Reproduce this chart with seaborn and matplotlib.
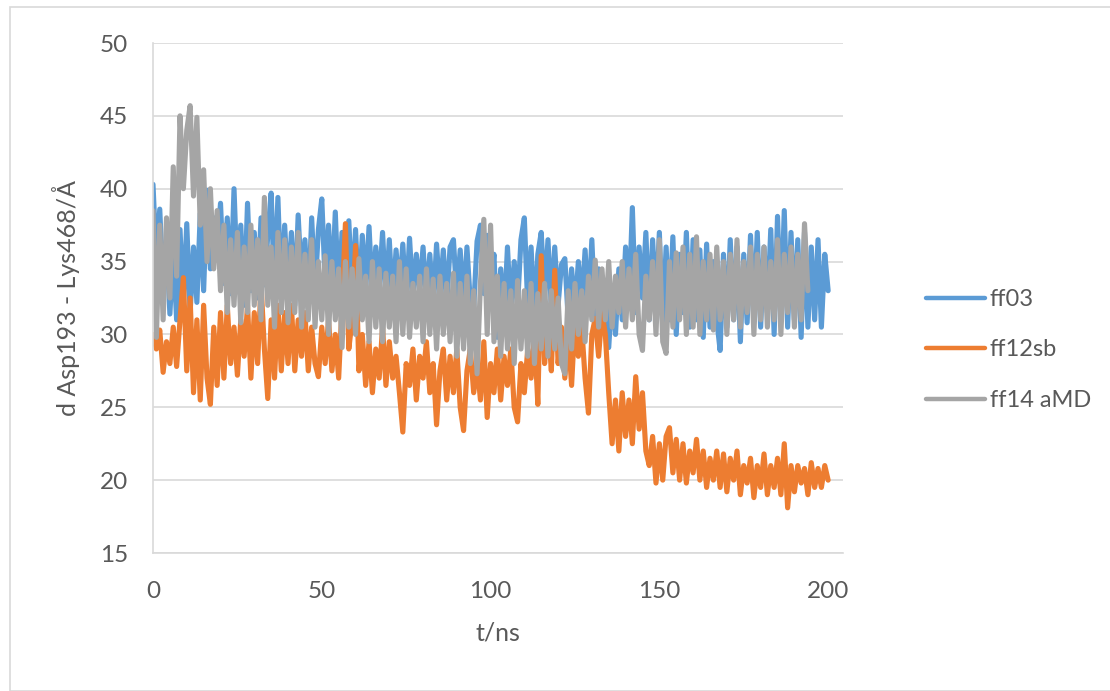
import seaborn as sns
import pandas as pd
import numpy as np
import matplotlib.pyplot as plt
from matplotlib.patches import Rectangle

# values, 1 ns apart
ff03 = [
    40.3, 35.0, 38.6, 33.2, 36.5, 31.4, 35.8, 31.0, 37.2, 32.0,
    37.6, 31.5, 36.0, 32.2, 38.3, 33.0, 39.9, 34.5, 38.0, 35.8,
    39.0, 33.5, 38.0, 32.8, 40.0, 33.5, 37.5, 32.0, 39.0, 33.0,
    37.0, 32.5, 38.0, 33.4, 36.8, 39.7, 33.0, 39.4, 32.5, 37.5,
    33.0, 37.0, 32.0, 38.2, 33.5, 36.5, 31.8, 38.0, 33.0, 37.2,
    39.3, 33.5, 37.5, 32.8, 38.4, 32.4, 37.0, 33.0, 37.8, 32.6,
    37.2, 32.0, 36.8, 33.0, 37.4, 32.5, 36.0, 33.2, 37.0, 32.4,
    36.5, 32.0, 35.8, 32.8, 36.2, 32.0, 36.6, 32.5, 35.5, 33.0,
    36.0, 32.2, 35.5, 31.8, 36.2, 32.6, 35.8, 32.0, 36.0, 36.5,
    32.5, 35.8, 31.9, 36.0, 32.2, 31.8, 36.4, 37.5, 32.8, 36.8,
    33.0, 35.5, 29.8, 34.5, 31.0, 36.0, 31.5, 35.0, 32.0, 36.5,
    38.0, 32.0, 36.0, 31.0, 35.5, 37.0, 32.5, 36.5, 31.8, 36.0,
    32.0, 34.8, 35.2, 31.0, 34.5, 31.5, 35.0, 32.0, 35.8, 31.5,
    36.5, 31.0, 34.5, 30.5, 33.5, 29.1, 33.0, 30.0, 34.5, 31.0,
    36.0, 32.0, 38.7, 31.5, 36.0, 32.5, 37.0, 31.0, 36.5, 32.0,
    37.0, 30.5, 36.0, 31.0, 36.7, 30.0, 35.5, 31.5, 37.0, 30.5,
    36.5, 31.0, 35.8, 29.8, 36.2, 30.5, 35.0, 31.0, 28.9, 35.5,
    30.5, 36.5, 31.0, 36.0, 29.5, 35.5, 30.8, 36.8, 31.0, 37.0,
    30.5, 36.0, 31.5, 37.2, 30.0, 38.1, 31.0, 38.5, 30.5, 37.0,
    31.0, 36.5, 29.8, 37.0, 30.5, 36.0, 31.0, 36.5, 30.5, 35.5,
    33.0,
]
ff12sb = [
    30.0, 29.0, 30.3, 27.4, 29.5, 28.0, 30.5, 27.8, 31.0, 33.9,
    27.5, 32.5, 26.0, 31.0, 25.5, 32.0, 27.0, 25.2, 30.5, 26.5,
    31.5, 27.0, 32.0, 28.0, 30.5, 27.2, 31.0, 28.5, 32.0, 27.0,
    31.5, 28.0, 33.5, 29.0, 25.6, 31.0, 27.0, 32.0, 27.5, 31.5,
    28.0, 32.0, 27.5, 31.0, 28.5, 31.5, 27.5, 30.5, 28.0, 27.1,
    30.5, 28.0, 31.0, 27.5, 30.0, 27.0, 32.0, 37.6, 29.0, 31.0,
    36.1, 27.5, 30.0, 26.5, 29.5, 26.0, 29.0, 27.0, 30.5, 26.5,
    29.5, 27.0, 28.5, 26.0, 23.3, 28.0, 26.5, 29.0, 25.5, 28.5,
    27.0, 29.5, 26.0, 28.0, 23.8, 27.5, 29.0, 25.5, 28.5, 26.0,
    29.0, 25.0, 23.4, 27.5, 29.0, 26.0, 28.0, 25.5, 29.5, 24.3,
    28.0, 26.0, 29.0, 25.5, 28.5, 26.5, 29.0, 25.0, 24.0, 28.0,
    26.0, 29.0, 27.0, 30.0, 25.2, 35.4, 28.0, 31.0, 27.5, 34.4,
    28.0, 30.5, 27.0, 30.0, 26.5, 31.0, 28.5, 30.5, 27.0, 24.6,
    30.0, 31.1, 28.5, 31.5, 30.0, 26.0, 22.5, 25.5, 22.0, 26.0,
    23.0, 25.5, 22.5, 27.1, 23.5, 26.0, 22.0, 21.0, 23.0, 19.8,
    22.5, 20.0, 23.0, 23.6, 20.5, 22.8, 20.0, 22.5, 19.8, 22.0,
    20.5, 22.8, 20.0, 22.0, 19.5, 21.5, 20.0, 22.0, 19.5, 21.8,
    19.2, 21.5, 20.0, 22.0, 19.0, 21.0, 19.8, 21.5, 18.8, 21.0,
    19.5, 21.8, 19.0, 21.0, 19.5, 21.5, 19.0, 22.5, 18.1, 21.0,
    19.2, 21.0, 19.8, 20.8, 19.0, 21.2, 19.5, 20.8, 19.5, 21.0,
    20.0,
]
ff14_amd = [
    38.5, 29.8, 37.5, 31.0, 38.0, 32.5, 41.5, 34.0, 45.0, 40.0,
    44.0, 45.7, 39.5, 44.9, 37.5, 41.3, 35.0, 40.0, 34.5, 38.5,
    33.0, 37.5, 31.5, 36.5, 32.0, 37.0, 30.8, 36.0, 31.5, 37.5,
    32.0, 36.5, 31.0, 39.4, 32.0, 36.0, 30.5, 37.0, 31.5, 36.5,
    30.8, 36.0, 31.5, 37.0, 30.5, 35.5, 31.0, 36.5, 30.5, 35.0,
    31.0, 35.4, 30.0, 35.0, 31.0, 34.5, 29.1, 35.0, 30.5, 34.5,
    30.0, 35.2, 31.0, 34.0, 29.5, 35.0, 30.5, 34.5, 29.5, 34.2,
    30.5, 34.0, 29.5, 35.0, 30.0, 34.5, 29.8, 33.5, 30.5, 34.0,
    29.5, 34.5, 30.0, 33.8, 29.0, 34.0, 30.0, 33.5, 29.5, 34.2,
    28.5, 33.5, 29.0, 34.0, 28.0, 33.0, 27.3, 33.5, 37.9, 30.0,
    37.5, 29.5, 34.0, 28.5, 33.5, 29.0, 33.0, 28.0, 33.7, 29.0,
    33.0, 28.5, 33.5, 28.0, 32.8, 29.0, 33.5, 28.5, 33.0, 29.0,
    32.5, 28.0, 27.3, 33.0, 29.0, 33.5, 30.0, 33.0, 29.5, 34.0,
    31.0, 35.1, 30.5, 34.5, 31.0, 35.0, 30.5, 34.0, 31.5, 35.0,
    30.5, 34.5, 31.0, 35.5, 30.0, 28.9, 34.0, 31.0, 35.0, 30.0,
    36.5, 29.5, 28.7, 35.0, 30.5, 35.6, 31.0, 36.0, 30.0, 35.5,
    30.5, 36.7, 30.0, 35.0, 31.0, 35.5, 30.3, 36.0, 31.0, 35.0,
    30.0, 35.5, 31.0, 36.5, 30.5, 35.0, 31.5, 36.0, 30.0, 35.5,
    31.0, 36.0, 30.5, 35.0, 31.0, 36.5, 30.0, 35.5, 31.5, 36.0,
    30.5, 35.5, 31.0, 37.6, 33.0,
]
series_names = ['ff03', 'ff12sb', 'ff14 aMD']
colors = ['#5B9BD5', '#ED7D31', '#A5A5A5']

frames = []
for name, vals in zip(series_names, [ff03, ff12sb, ff14_amd]):
    frames.append(pd.DataFrame({'t': np.arange(len(vals)), 'd': vals, 'series': name}))
df = pd.concat(frames, ignore_index=True)

sns.set_style('white')
plt.rcParams['font.family'] = ['Lato', 'DejaVu Sans']
txt = '#595959'
grid_c = '#d9d9d9'

fig = plt.figure(figsize=(11.1, 6.91), dpi=100)
fig.patches.append(Rectangle((10 / 1110, 0), 1.2, (691 - 7) / 691, transform=fig.transFigure,
                             fill=False, edgecolor=grid_c, lw=1.2))
ax = fig.add_axes([153 / 1110, (691 - 553) / 691, 690 / 1110, 510 / 691])

sns.lineplot(data=df, x='t', y='d', hue='series', palette=dict(zip(series_names, colors)),
             estimator=None, lw=3.7, ax=ax, legend=False)

ax.set_xlim(0, 204.4)
ax.set_ylim(15, 50)
ax.set_xticks([0, 50, 100, 150, 200])
ax.set_yticks([15, 20, 25, 30, 35, 40, 45, 50])
ax.yaxis.grid(True, color=grid_c, lw=1.2)
ax.set_axisbelow(True)
for s in ['top', 'right']:
    ax.spines[s].set_visible(False)
ax.spines['left'].set_color(grid_c)
ax.spines['bottom'].set_color(grid_c)
ax.spines['left'].set_linewidth(1.2)
ax.spines['bottom'].set_linewidth(1.2)
ax.tick_params(axis='both', length=0, labelsize=17.5, colors=txt)
ax.tick_params(axis='y', pad=18)
ax.tick_params(axis='x', pad=20)
ax.set_xlabel('t/ns', fontsize=18, color=txt, labelpad=14)
ax.set_ylabel('d Asp193 - Lys468/Å', fontsize=18, color=txt, labelpad=14)

handles = [plt.Line2D([], [], color=c, lw=3.2) for c in colors]
leg = fig.legend(handles, series_names, loc='center left', bbox_to_anchor=(905 / 1110, (691 - 350) / 691),
                 frameon=False, fontsize=17, handlelength=2.5, handletextpad=0.2, labelspacing=1.25)
for t in leg.get_texts():
    t.set_color(txt)

fig.savefig('out.png', dpi=100)
